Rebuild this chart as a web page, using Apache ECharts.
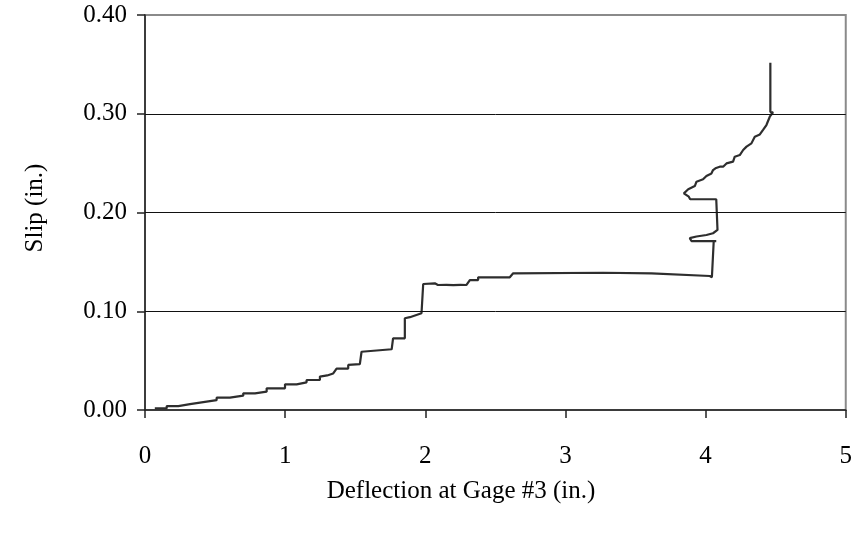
<!DOCTYPE html>
<html>
<head>
<meta charset="utf-8">
<script src="https://cdn.jsdelivr.net/npm/echarts@6/dist/echarts.min.js"></script>
<style>
  html, body { margin: 0; padding: 0; background: #fff; }
  #chart { width: 855px; height: 533px; }
</style>
</head>
<body>
<div id="chart"></div>
<script>
// Deflection at gage #3 (in.) vs. measured slip (in.), traced along the recorded path
const deflection = [
  0.070, 0.155, 0.155, 0.238, 0.238, 0.321, 0.321, 0.416, 0.416, 0.511,
  0.511, 0.606, 0.606, 0.701, 0.701, 0.785, 0.785, 0.868, 0.868, 0.999,
  0.999, 1.082, 1.082, 1.153, 1.153, 1.248, 1.248, 1.300, 1.343, 1.367,
  1.450, 1.450, 1.533, 1.545, 1.545, 1.760, 1.770, 1.854, 1.854, 1.890,
  1.973, 1.985, 2.068, 2.090, 2.150, 2.200, 2.250, 2.294, 2.318, 2.377,
  2.377, 2.603, 2.627, 3.269, 3.614, 3.626, 4.030, 4.045, 4.058, 4.076,
  3.899, 3.887, 3.935, 4.006, 4.053, 4.085, 4.076, 4.076, 3.890, 3.880,
  3.845, 3.876, 3.923, 3.935, 3.982, 4.006, 4.042, 4.053, 4.070, 4.101,
  4.125, 4.149, 4.196, 4.208, 4.244, 4.268, 4.292, 4.327, 4.351, 4.387,
  4.410, 4.434, 4.458, 4.481, 4.462, 4.462
];
const slip = [
  0.0017, 0.0017, 0.0040, 0.0040, 0.0060, 0.0060, 0.0080, 0.0080, 0.0100, 0.0100,
  0.0125, 0.0125, 0.0145, 0.0145, 0.0169, 0.0169, 0.0186, 0.0186, 0.0220, 0.0220,
  0.0260, 0.0260, 0.0280, 0.0280, 0.0304, 0.0304, 0.0338, 0.0350, 0.0370, 0.0420,
  0.0420, 0.0456, 0.0465, 0.0470, 0.0590, 0.0615, 0.0726, 0.0726, 0.0929, 0.0940,
  0.0980, 0.1276, 0.1283, 0.1266, 0.1268, 0.1264, 0.1268, 0.1266, 0.1316, 0.1316,
  0.1344, 0.1344, 0.1384, 0.1390, 0.1384, 0.1364, 0.1357, 0.1344, 0.1711, 0.1711,
  0.1711, 0.1740, 0.1757, 0.1772, 0.1790, 0.1823, 0.1823, 0.2134, 0.2134, 0.2160,
  0.2194, 0.2235, 0.2268, 0.2312, 0.2336, 0.2370, 0.2396, 0.2430, 0.2448, 0.2464,
  0.2464, 0.2497, 0.2515, 0.2565, 0.2582, 0.2633, 0.2667, 0.2700, 0.2768, 0.2790,
  0.2836, 0.2886, 0.2970, 0.3015, 0.3017, 0.3517
];
const xTicks = [0, 1, 2, 3, 4, 5];
const yTicks = [0.0, 0.1, 0.2, 0.3, 0.4];
const gridValues = [0.1, 0.2, 0.3];
const xTitle = 'Deflection at Gage #3 (in.)';
const yTitle = 'Slip (in.)';

const points = deflection.map((d, i) => [d, slip[i]]);
const serif = '"Liberation Serif", "Times New Roman", "DejaVu Serif", serif';

const chart = echarts.init(document.getElementById('chart'), null, { renderer: 'canvas' });
chart.setOption({
  animation: false,
  backgroundColor: '#ffffff',
  grid: {
    left: 145, right: 8, top: 15, bottom: 123,
    show: true, borderColor: '#8a8a8a', borderWidth: 2, backgroundColor: 'transparent'
  },
  xAxis: {
    type: 'value',
    min: xTicks[0], max: xTicks[xTicks.length - 1], interval: 1,
    axisLine: { show: true, onZero: false, lineStyle: { color: '#222', width: 1.5 } },
    axisTick: { show: true, inside: false, length: 8, lineStyle: { color: '#222', width: 1.5 } },
    axisLabel: { color: '#000', fontFamily: serif, fontSize: 25, margin: 34 },
    splitLine: { show: false }
  },
  yAxis: {
    type: 'value',
    min: yTicks[0], max: yTicks[yTicks.length - 1], interval: 0.1,
    axisLine: { show: true, onZero: false, lineStyle: { color: '#222', width: 1.5 } },
    axisTick: { show: true, inside: false, length: 8, lineStyle: { color: '#222', width: 1.5 } },
    axisLabel: {
      color: '#000', fontFamily: serif, fontSize: 25, margin: 18,
      formatter: v => v.toFixed(2)
    },
    splitLine: { show: false }
  },
  graphic: [
    {
      type: 'text', x: 461, y: 491,
      style: { text: xTitle, fill: '#000', font: '25px ' + serif, align: 'center', verticalAlign: 'middle' }
    },
    {
      type: 'text', x: 35, y: 208, rotation: Math.PI / 2,
      style: { text: yTitle, fill: '#000', font: '25px ' + serif, align: 'center', verticalAlign: 'middle' }
    }
  ],
  series: [{
    type: 'line',
    data: points,
    showSymbol: false,
    symbol: 'none',
    lineStyle: { color: '#2e2e2e', width: 2.2 },
    markLine: {
      silent: true,
      symbol: 'none',
      label: { show: false },
      lineStyle: { color: '#111', width: 1, type: 'solid' },
      data: gridValues.map(v => ({ yAxis: v }))
    },
    z: 3
  }]
});
</script>
</body>
</html>
